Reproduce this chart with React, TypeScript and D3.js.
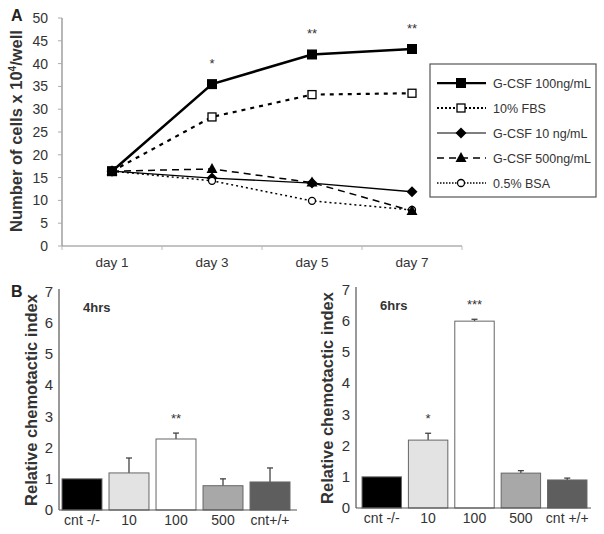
import React from "react";
import * as d3 from "d3";

const days = ["day 1", "day 3", "day 5", "day 7"];
const gcsf100 = [16.4, 35.5, 42.0, 43.2];
const fbs10 = [16.4, 28.3, 33.2, 33.5];
const gcsf10 = [16.4, 14.9, 13.8, 11.9];
const gcsf500 = [16.4, 16.9, 13.9, 7.7];
const bsa05 = [16.4, 14.3, 9.9, 7.9];
const sigTop = ["", "*", "**", "**"];
const topTicks = [0, 5, 10, 15, 20, 25, 30, 35, 40, 45, 50];

const cats4 = ["cnt -/-", "10", "100", "500", "cnt+/+"];
const vals4 = [1.0, 1.19, 2.28, 0.78, 0.9];
const err4 = [0, 0.48, 0.19, 0.22, 0.45];
const sig4 = ["", "", "**", "", ""];

const cats6 = ["cnt -/-", "10", "100", "500", "cnt +/+"];
const vals6 = [1.0, 2.18, 6.0, 1.12, 0.9];
const err6 = [0, 0.22, 0.06, 0.08, 0.06];
const sig6 = ["", "*", "***", "", ""];
const barTicks = [0, 1, 2, 3, 4, 5, 6, 7];
const barColors = ["#000000", "#e3e3e3", "#ffffff", "#a8a8a8", "#5e5e5e"];

const FONT = "'Liberation Sans', Arial, sans-serif";
const TXT = "#333";

type Series = { name: string; values: number[]; width: number; dash: string; legendDash: string; marker: string };
const series: Series[] = [
  { name: "G-CSF 100ng/mL", values: gcsf100, width: 2.5, dash: "", legendDash: "", marker: "fsquare" },
  { name: "10% FBS", values: fbs10, width: 2.2, dash: "4,5", legendDash: "2,2", marker: "osquare" },
  { name: "G-CSF 10 ng/mL", values: gcsf10, width: 1.3, dash: "", legendDash: "", marker: "diamond" },
  { name: "G-CSF 500ng/mL", values: gcsf500, width: 1.5, dash: "7,5", legendDash: "7,5", marker: "triangle" },
  { name: "0.5% BSA", values: bsa05, width: 1.5, dash: "2,3", legendDash: "1.5,1.5", marker: "circle" },
];

function Marker({ kind, x, y }: { kind: string; x: number; y: number }) {
  if (kind === "fsquare") return <rect x={x - 5} y={y - 5} width={10} height={10} fill="#000" />;
  if (kind === "osquare") return <rect x={x - 4} y={y - 4} width={8} height={8} fill="#fff" stroke="#000" strokeWidth={1.3} />;
  if (kind === "diamond") return <path d={`M${x},${y - 5.5}L${x + 5.5},${y}L${x},${y + 5.5}L${x - 5.5},${y}Z`} fill="#000" />;
  if (kind === "triangle") return <path d={`M${x},${y - 6}L${x + 5.5},${y + 4}L${x - 5.5},${y + 4}Z`} fill="#000" />;
  return <circle cx={x} cy={y} r={3.5} fill="#fff" stroke="#000" strokeWidth={1.3} />;
}

function TopChart() {
  const x = d3.scaleBand<string>().domain(days).range([62, 462]);
  const y = d3.scaleLinear().domain([0, 50]).range([246, 18]);
  const cx = (d: string) => (x(d) as number) + x.bandwidth() / 2;
  const line = d3.line<number>().x((_, i) => cx(days[i])).y((v) => y(v));
  const order = [2, 4, 3, 1, 0];
  return (
    <g>
      <line x1={62} y1={18} x2={62} y2={246} stroke="#888" strokeWidth={1.2} />
      <line x1={62} y1={246} x2={462} y2={246} stroke="#888" strokeWidth={1.2} />
      {topTicks.map((t) => (
        <g key={t}>
          <line x1={58} x2={62} y1={y(t)} y2={y(t)} stroke="#aaa" />
          <text x={48} y={y(t) + 5} textAnchor="end" fontSize={14} fill={TXT} fontFamily={FONT}>{t}</text>
        </g>
      ))}
      <line x1={62} x2={62} y1={246} y2={250} stroke="#bbb" />
      {days.map((d, i) => (
        <g key={d}>
          <line x1={(x(d) as number) + x.bandwidth()} x2={(x(d) as number) + x.bandwidth()} y1={246} y2={250} stroke="#bbb" />
          <text x={cx(d)} y={267} textAnchor="middle" fontSize={13.5} fill={TXT} fontFamily={FONT}>{d}</text>
          {sigTop[i] && (
            <text x={cx(d)} y={y(gcsf100[i]) - 16} textAnchor="middle" fontSize={13} fill={TXT} fontFamily={FONT}>{sigTop[i]}</text>
          )}
        </g>
      ))}
      {order.map((si) => {
        const s = series[si];
        return (
          <g key={s.name}>
            <path d={line(s.values) as string} fill="none" stroke="#000" strokeWidth={s.width} strokeDasharray={s.dash || undefined} />
            {s.values.map((v, i) => <Marker key={i} kind={s.marker} x={cx(days[i])} y={y(v)} />)}
          </g>
        );
      })}
      <text transform={`translate(22,131) rotate(-90)`} textAnchor="middle" fontSize={16.5} fontWeight="bold" fill={TXT} fontFamily={FONT}>
        Number of cells x 10<tspan dy={-6} fontSize={10}>4</tspan><tspan dy={6}>/well</tspan>
      </text>
      <rect x={430} y={64} width={166} height={133} fill="#fff" stroke="#555" strokeWidth={1.2} />
      {series.map((s, i) => {
        const ly = 83 + i * 25;
        return (
          <g key={s.name}>
            <line x1={437} x2={486} y1={ly} y2={ly} stroke="#000" strokeWidth={s.width * 0.9} strokeDasharray={s.legendDash || undefined} />
            <Marker kind={s.marker} x={461} y={ly} />
            <text x={493} y={ly + 4.5} fontSize={12.5} fill={TXT} fontFamily={FONT}>{s.name}</text>
          </g>
        );
      })}
    </g>
  );
}

function BarChart({ cats, vals, errs, sigs, title, r0, r1, pOut, y0, axisEnd, labelX }: {
  cats: string[]; vals: number[]; errs: number[]; sigs: string[]; title: string;
  r0: number; r1: number; pOut: number; y0: number; axisEnd: number; labelX: number;
}) {
  const x = d3.scaleBand<string>().domain(cats).range([r0, r1]).paddingInner(0.15).paddingOuter(pOut);
  const y = d3.scaleLinear().domain([0, 7]).range([y0, y0 - 218]);
  const bw = x.bandwidth();
  return (
    <g>
      {cats.map((c, i) => {
        const bx = x(c) as number;
        const top = y(vals[i]);
        const et = y(vals[i] + errs[i]);
        return (
          <g key={c}>
            {errs[i] > 0 && (
              <g>
                <line x1={bx + bw / 2} x2={bx + bw / 2} y1={top} y2={et} stroke="#444" strokeWidth={1.3} />
                <line x1={bx + bw / 2 - 3} x2={bx + bw / 2 + 3} y1={et} y2={et} stroke="#444" strokeWidth={1.3} />
              </g>
            )}
            <rect x={bx} y={top} width={bw} height={y0 - top} fill={barColors[i]} stroke="#666" strokeWidth={1} />
            {sigs[i] && (
              <text x={bx + bw / 2} y={et - 10} textAnchor="middle" fontSize={13} fill={TXT} fontFamily={FONT}>{sigs[i]}</text>
            )}
            <text x={bx + bw / 2} y={y0 + 15} textAnchor="middle" fontSize={14} fill={TXT} fontFamily={FONT}>{c}</text>
          </g>
        );
      })}
      <line x1={r0} y1={y0 - 221} x2={r0} y2={y0} stroke="#555" strokeWidth={1.2} />
      <line x1={r0} y1={y0} x2={axisEnd} y2={y0} stroke="#555" strokeWidth={1.2} />
      {barTicks.map((t) => (
        <text key={t} x={r0 - 6} y={y(t) + 5} textAnchor="end" fontSize={15} fill={TXT} fontFamily={FONT}>{t}</text>
      ))}
      <text x={r0 + 24} y={y0 - 198} fontSize={13} fontWeight="bold" fill={TXT} fontFamily={FONT}>{title}</text>
      <text transform={`translate(${labelX},${y0 - 110}) rotate(-90)`} textAnchor="middle" fontSize={16.5} fontWeight="bold" fill={TXT} fontFamily={FONT}>
        Relative chemotactic index
      </text>
    </g>
  );
}

export default function App() {
  return (
    <div style={{ position: "absolute", left: 0, top: 0 }}>
      <svg width={604} height={534} style={{ display: "block", background: "#fff" }}>
        <text x={11} y={21} fontSize={16} fontWeight="bold" fill="#222" fontFamily={FONT}>A</text>
        <text x={11} y={297} fontSize={16} fontWeight="bold" fill="#222" fontFamily={FONT}>B</text>
        <TopChart />
        <BarChart cats={cats4} vals={vals4} errs={err4} sigs={sig4} title="4hrs" r0={59} r1={293} pOut={0.064} y0={510} axisEnd={297} labelX={37} />
        <BarChart cats={cats6} vals={vals6} errs={err6} sigs={sig6} title="6hrs" r0={356} r1={593} pOut={0.13} y0={508} axisEnd={591} labelX={333} />
      </svg>
    </div>
  );
}
